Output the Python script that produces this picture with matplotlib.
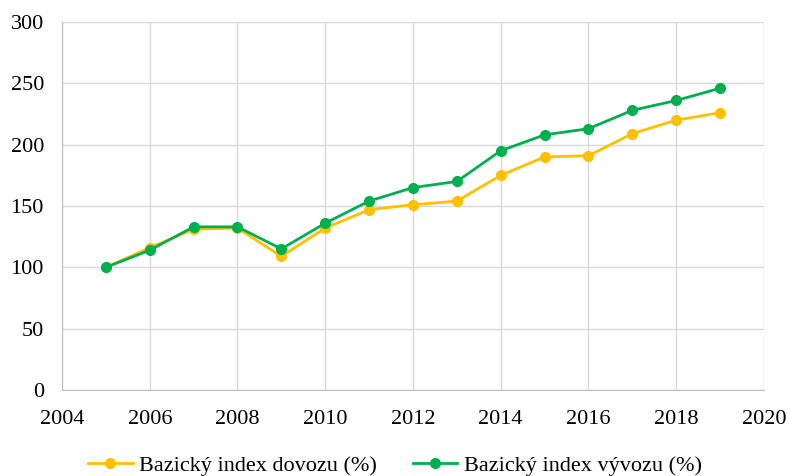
import numpy as np
import matplotlib.pyplot as plt

plt.rcParams['font.family'] = ['Liberation Serif', 'DejaVu Serif']

# data
years = [2005, 2006, 2007, 2008, 2009, 2010, 2011, 2012, 2013, 2014, 2015, 2016, 2017, 2018, 2019]
dovoz = [100, 116, 131, 132, 109, 132, 147, 151, 154, 175, 190, 191, 209, 220, 226]
vyvoz = [100, 114, 133, 133, 115, 136, 154, 165, 170, 195, 208, 213, 228, 236, 246]

fig = plt.figure(figsize=(7.9, 4.76), dpi=100)
ax = fig.add_axes([0.0785, 0.1807, 0.8885, 0.7731])

ax.plot(years, dovoz, color='#FFC000', lw=2, marker='o', ms=7, label='Bazický index dovozu (%)')
ax.plot(years, vyvoz, color='#00B050', lw=2, marker='o', ms=7, label='Bazický index vývozu (%)')

ax.set_xlim(2004, 2020)
ax.set_ylim(0, 300)
ax.set_xticks(np.arange(2004, 2021, 2))
ax.set_yticks(np.arange(0, 301, 50))
ax.grid(True, color='#d9d9d9', lw=1)
ax.set_axisbelow(True)
for s in ax.spines.values():
    s.set_visible(False)
ax.spines['left'].set_visible(True)
ax.spines['left'].set_color('#bfbfbf')
ax.spines['bottom'].set_visible(True)
ax.spines['bottom'].set_color('#bfbfbf')
ax.tick_params(length=0, labelsize=16, colors='#000000')
ax.tick_params(axis='x', pad=14.5)
ax.tick_params(axis='y', pad=13)

fig.legend(loc='lower center', bbox_to_anchor=(0.5, -0.042), ncol=2, frameon=False,
           fontsize=16, handlelength=2, handletextpad=0.3, columnspacing=1.6)

fig.savefig('out.png', dpi=100)
